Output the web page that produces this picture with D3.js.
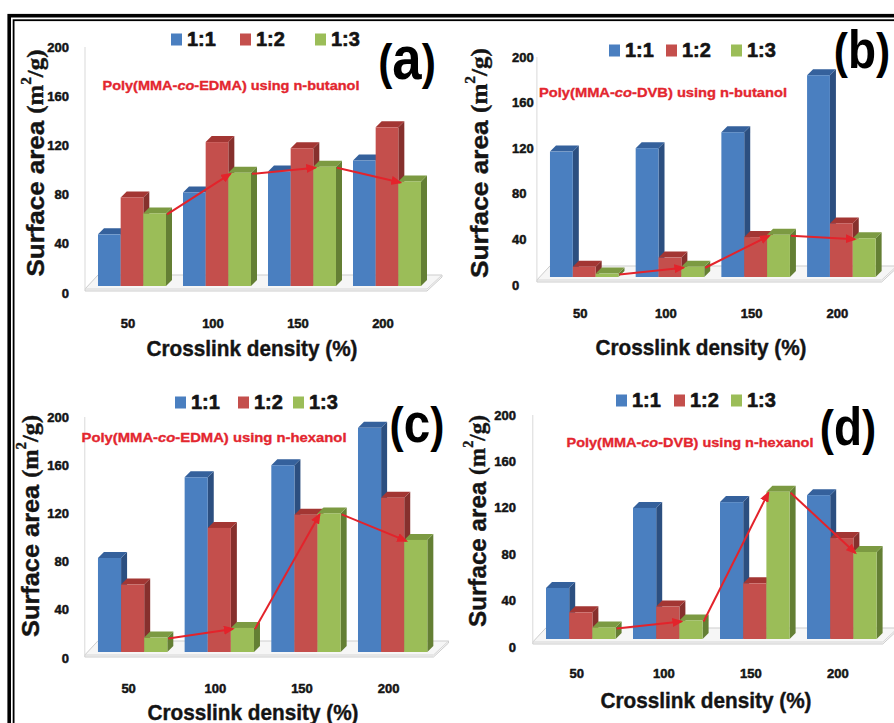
<!DOCTYPE html>
<html>
<head>
<meta charset="utf-8">
<script src="https://cdn.jsdelivr.net/npm/d3@7"></script>
<style>
  html, body { margin: 0; padding: 0; background: #fff; }
  svg { display: block; }
  text { font-family: "Liberation Sans", Arial, sans-serif; font-weight: bold; }
  .heavy { stroke-linejoin: round; paint-order: stroke; }
</style>
</head>
<body>
<svg id="fig" width="894" height="723"></svg>
<script>
// Crosslink densities (%) on the x axis, porogen ratios as series
const densities = ["50", "100", "150", "200"];
const ratios = ["1:1", "1:2", "1:3"];
const yTicks = [0, 40, 80, 120, 160, 200];

// Surface area (m2/g); one row per ratio (1:1, 1:2, 1:3), one column per density
const edmaButanol = [[42, 76, 93, 102], [72, 117, 112, 129], [59, 92, 97, 85]];
const dvbButanol  = [[110, 113, 127, 177], [9, 17, 35, 47], [3, 9, 37, 34]];
const edmaHexanol = [[78, 145, 155, 186], [56, 103, 114, 128], [12, 20, 115, 93]];
const dvbHexanol  = [[44, 113, 118, 124], [23, 28, 48, 87], [10, 16, 127, 75]];

const panelData = [edmaButanol, dvbButanol, edmaHexanol, dvbHexanol];
const panelLetters = ["a", "b", "c", "d"];
const crosslinkers = ["EDMA", "DVB", "EDMA", "DVB"];
const porogens = ["n-butanol", "n-butanol", "n-hexanol", "n-hexanol"];

const frontColor = ["#4a7fc0", "#c44f4c", "#9bbd58"];
const topColor   = ["#35619c", "#a33633", "#7c9a42"];
const sideColor  = ["#2c4f80", "#86302d", "#647f34"];
const arrowColor = "#e3232b";
const inkColor = "#141414";
const captionColor = "#e3262f";

// Panel placement on the page
const layout = [
  {x0: 89.5, x1: 429.5, floor: 286, k: 1.23, tickX: 69, tickAnchor: "end", tickDy: 7,
   ytX: 35, ytY: 163, ytLen: 227, legendY: 39, legendX: [171, 240, 315],
   letterX: 407, letterY: 79, letterSize: 62, capX: 231, capY: 85, capW: 257,
   xlY: 323, xtX: 252, xtY: 348},
  {x0: 541.4, x1: 884.2, floor: 277, k: 1.14, tickX: 512, tickAnchor: "start", tickDy: 8,
   ytX: 479, ytY: 163, ytLen: 230, legendY: 50, legendX: [609, 666, 731],
   letterX: 862, letterY: 68, letterSize: 54, capX: 663, capY: 92, capW: 248,
   xlY: 313, xtX: 701, xtY: 347},
  {x0: 89.3, x1: 436, floor: 652, k: 1.205, tickX: 69, tickAnchor: "end", tickDy: 6,
   ytX: 30, ytY: 526, ytLen: 222, legendY: 402, legendX: [175, 238, 293],
   letterX: 417, letterY: 442, letterSize: 56, capX: 214, capY: 437, capW: 265,
   xlY: 688, xtX: 253, xtY: 712},
  {x0: 537.3, x1: 885.3, floor: 639, k: 1.16, tickX: 516, tickAnchor: "end", tickDy: 8,
   ytX: 477, ytY: 521, ytLen: 212, legendY: 400, legendX: [616, 674, 731],
   letterX: 848, letterY: 445, letterSize: 54, capX: 690, capY: 442, capW: 247,
   xlY: 673, xtX: 706, xtY: 700}
];

const DX = 6, DY = -6; // depth of the 3D columns

const svg = d3.select("#fig");

// arrow head marker
svg.append("defs").append("marker")
  .attr("id", "head")
  .attr("markerUnits", "userSpaceOnUse")
  .attr("markerWidth", 11).attr("markerHeight", 9)
  .attr("refX", 9).attr("refY", 4.5)
  .attr("orient", "auto")
  .append("path").attr("d", "M0,0 L11,4.5 L0,9 Z").attr("fill", arrowColor);

// double frame
svg.append("rect").attr("x", 9.2).attr("y", 15.7).attr("width", 960).attr("height", 800)
  .attr("fill", "none").attr("stroke", "#000").attr("stroke-width", 3.6);
svg.append("rect").attr("x", 13.6).attr("y", 20.2).attr("width", 960).attr("height", 800)
  .attr("fill", "none").attr("stroke", "#000").attr("stroke-width", 1.8);

panelData.forEach((rows, p) => {
  const L = layout[p];
  const g = svg.append("g");

  const x = d3.scaleBand().domain(densities).range([L.x0, L.x1])
    .paddingInner(0.2).paddingOuter(0.1);
  const xr = d3.scaleBand().domain(ratios).range([0, x.bandwidth()]);
  const y = d3.scaleLinear().domain([0, 200]).range([L.floor, L.floor - 200 * L.k]);

  // floor slab
  const fl = L.x0 - 4.5, fr = L.x1 - 2.5, fy = L.floor + 3;
  g.append("path")
    .attr("d", `M${fl},${fy + 2} L${fr},${fy + 2} L${fr + 15},${fy - 12} L${fr + 15},${fy - 14} L${fl + 13},${fy - 14} L${fl},${fy} Z`)
    .attr("fill", "#f6f6f6").attr("stroke", "#cdcdcd").attr("stroke-width", 1);
  g.append("line").attr("x1", fl).attr("x2", fr).attr("y1", fy).attr("y2", fy)
    .attr("stroke", "#d6d6d6").attr("stroke-width", 1);
  g.append("line").attr("x1", fr).attr("x2", fr + 15).attr("y1", fy).attr("y2", fy - 14)
    .attr("stroke", "#d6d6d6").attr("stroke-width", 1);

  // value axis line
  g.append("line").attr("x1", fl).attr("x2", fl)
    .attr("y1", y(200) + L.tickDy).attr("y2", fy)
    .attr("stroke", "#d9d9d9").attr("stroke-width", 1);

  // y tick labels
  g.selectAll("text.ytick").data(yTicks).join("text")
    .attr("class", "ytick heavy")
    .attr("x", L.tickX).attr("y", d => y(d) + L.tickDy)
    .attr("text-anchor", L.tickAnchor).attr("dominant-baseline", "central")
    .attr("font-size", 13).attr("fill", inkColor)
    .attr("stroke", inkColor).attr("stroke-width", 0.5)
    .text(d => d);

  // columns, drawn left to right so each front face hides its neighbour's side
  const bars = [];
  densities.forEach((d, i) => {
    ratios.forEach((r, j) => {
      bars.push({d, r, i, j, v: rows[j][i]});
    });
  });
  const bg = g.selectAll("g.bar").data(bars).join("g").attr("class", "bar");
  bg.each(function(b) {
    const sel = d3.select(this);
    const bx = x(b.d) + xr(b.r), w = xr.bandwidth();
    const top = y(b.v), bot = y(0);
    sel.append("path")
      .attr("d", `M${bx + w},${top} L${bx + w + DX},${top + DY} L${bx + w + DX},${bot + DY} L${bx + w},${bot} Z`)
      .attr("fill", sideColor[b.j]);
    sel.append("path")
      .attr("d", `M${bx},${top} L${bx + w},${top} L${bx + w + DX},${top + DY} L${bx + DX},${top + DY} Z`)
      .attr("fill", topColor[b.j]);
    sel.append("rect")
      .attr("x", bx).attr("y", top).attr("width", w).attr("height", bot - top)
      .attr("fill", frontColor[b.j]);
  });

  // trend arrows joining the 1:3 columns
  const green = rows[2];
  for (let i = 0; i < densities.length - 1; i++) {
    const xs = x(densities[i]) + xr("1:3") + xr.bandwidth() + 1;
    const xe = x(densities[i + 1]) + xr("1:3") + 2;
    g.append("line")
      .attr("x1", xs).attr("y1", y(green[i]) + 1)
      .attr("x2", xe).attr("y2", y(green[i + 1]) + 1)
      .attr("stroke", arrowColor).attr("stroke-width", 2)
      .attr("marker-end", "url(#head)");
  }

  // x tick labels
  g.selectAll("text.xtick").data(densities).join("text")
    .attr("class", "xtick heavy")
    .attr("x", d => x(d) + x.bandwidth() / 2 - 4).attr("y", L.xlY)
    .attr("text-anchor", "middle").attr("dominant-baseline", "central")
    .attr("font-size", 13).attr("fill", inkColor)
    .attr("stroke", inkColor).attr("stroke-width", 0.5)
    .text(d => d);

  // x axis title
  g.append("text")
    .attr("class", "heavy")
    .attr("x", L.xtX).attr("y", L.xtY)
    .attr("text-anchor", "middle").attr("dominant-baseline", "central")
    .attr("font-size", 22).attr("fill", inkColor)
    .attr("stroke", inkColor).attr("stroke-width", 0.4)
    .attr("textLength", 211).attr("lengthAdjust", "spacingAndGlyphs")
    .text("Crosslink density (%)");

  // y axis title
  const yt = g.append("text")
    .attr("class", "heavy")
    .attr("transform", `translate(${L.ytX},${L.ytY}) rotate(-90)`)
    .attr("text-anchor", "middle").attr("dominant-baseline", "central")
    .attr("fill", inkColor).attr("stroke", inkColor).attr("stroke-width", 0.4)
    .attr("textLength", L.ytLen).attr("lengthAdjust", "spacingAndGlyphs");
  yt.append("tspan").attr("font-size", 24).text("Surface area ");
  yt.append("tspan").attr("font-size", 23)
    .style("font-family", "'Liberation Serif', 'Times New Roman', serif").text("(m");
  yt.append("tspan").attr("font-size", 14).attr("dy", -9)
    .style("font-family", "'Liberation Serif', 'Times New Roman', serif").text("2");
  yt.append("tspan").attr("font-size", 23).attr("dy", 9)
    .style("font-family", "'Liberation Serif', 'Times New Roman', serif").text("/g)");

  // legend
  ratios.forEach((r, j) => {
    g.append("rect")
      .attr("x", L.legendX[j]).attr("y", L.legendY - 5.5)
      .attr("width", 11).attr("height", 12)
      .attr("fill", frontColor[j]);
    g.append("text")
      .attr("class", "heavy")
      .attr("x", L.legendX[j] + 16).attr("y", L.legendY)
      .attr("dominant-baseline", "central")
      .attr("font-size", 20).attr("fill", inkColor)
      .attr("stroke", inkColor).attr("stroke-width", 0.6)
      .text(r);
  });

  // caption
  const cap = g.append("text")
    .attr("class", "heavy")
    .attr("x", L.capX).attr("y", L.capY)
    .attr("text-anchor", "middle").attr("dominant-baseline", "central")
    .attr("font-size", 13.5).attr("fill", captionColor)
    .attr("stroke", captionColor).attr("stroke-width", 0.35)
    .attr("textLength", L.capW).attr("lengthAdjust", "spacingAndGlyphs");
  cap.append("tspan").text("Poly(MMA-");
  cap.append("tspan").attr("font-style", "italic").text("co");
  cap.append("tspan").text(`-${crosslinkers[p]})  using ${porogens[p]}`);

  // panel letter
  const lt = g.append("text")
    .attr("transform", `translate(${L.letterX},${L.letterY}) scale(0.85,1)`)
    .attr("text-anchor", "middle").attr("fill", "#000");
  lt.append("tspan").attr("font-size", 50).text("(");
  lt.append("tspan").attr("font-size", L.letterSize).text(panelLetters[p]);
  lt.append("tspan").attr("font-size", 50).text(")");
});
</script>
</body>
</html>
